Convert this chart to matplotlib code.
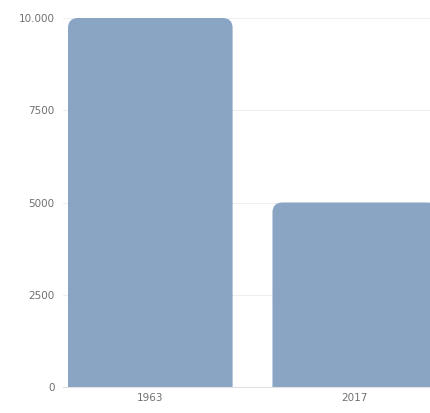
import matplotlib
matplotlib.use('Agg')
import matplotlib.pyplot as plt
from matplotlib.patches import FancyBboxPatch

years = ['1963', '2017']
values = [10000, 5000]
yticks = [0, 2500, 5000, 7500, 10000]
ylabels = ['0', '2500', '5000', '7500', '10.000']

W, H = 430, 413
fig = plt.figure(figsize=(W / 100, H / 100), dpi=100)
# axes box in pixels: left 63, right 430, bottom 387, top 14
ax = fig.add_axes([63 / W, (H - 387) / H, (430 - 63) / W, (387 - 14) / H])

pos = range(len(years))
bars = ax.bar(pos, values, width=0.805, color='#8aa4c4', zorder=2)

ax.set_xlim(-0.427, 1.368)
ax.set_ylim(0, 10000 * 373 / 369)

# rounded top corners: swap each bar for a rounded box, bottom pushed below 0
xpx = 205.0  # pixels per x unit
ypx = 369 / 10000  # pixels per y unit
aspect = (1 / ypx) / (1 / xpx)
r = 10 / xpx
for b in bars:
    b.set_visible(False)
    x0, w, h = b.get_x(), b.get_width(), b.get_height()
    p = FancyBboxPatch((x0 + r, -2000), w - 2 * r, h + 2000 - r * aspect,
                       boxstyle='round,pad=%f' % r, mutation_aspect=aspect,
                       facecolor='#8aa4c4', edgecolor='none', zorder=2)
    ax.add_patch(p)

ax.set_yticks(yticks)
ax.set_yticklabels(ylabels)
ax.set_xticks(list(pos))
ax.set_xticklabels(years)
ax.tick_params(axis='both', length=0, labelsize=7.5, labelcolor='#707070')
ax.tick_params(axis='y', pad=6)
ax.tick_params(axis='x', pad=4)
ax.grid(axis='y', color='#efefef', linewidth=0.8, zorder=0)
for s in ['left', 'right', 'top']:
    ax.spines[s].set_visible(False)
ax.spines['bottom'].set_color('#e0e0e0')
ax.spines['bottom'].set_linewidth(0.8)

fig.savefig('out.png', dpi=100)
